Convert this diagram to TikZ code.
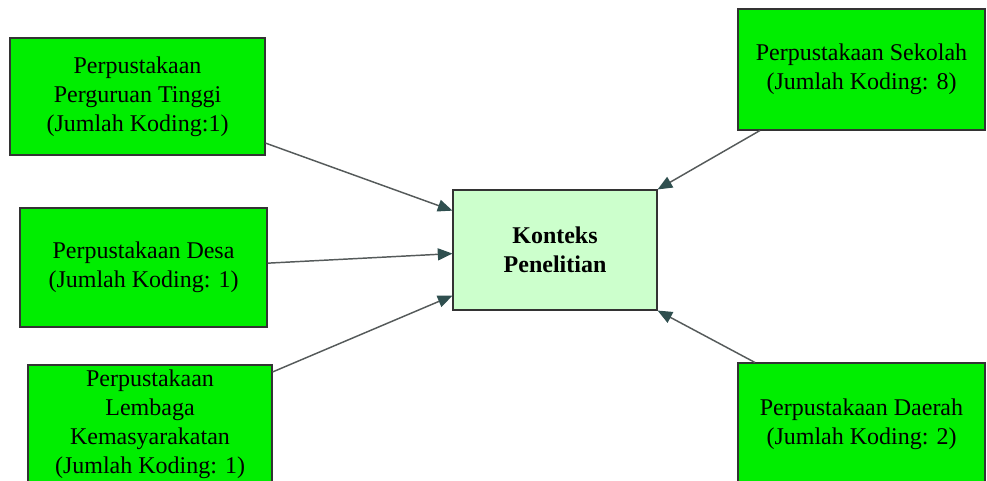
\documentclass[tikz,border=0pt]{standalone}
\usepackage{fontspec}
\setmainfont{Liberation Serif}
\usetikzlibrary{arrows.meta}
\definecolor{boxgreen}{RGB}{0,238,0}
\definecolor{palegreen}{RGB}{204,255,204}
\definecolor{arrowgray}{RGB}{85,90,90}
\definecolor{tipslate}{RGB}{47,79,79}
\begin{document}
\begin{tikzpicture}[x=0.75pt, y=-0.75pt,
  source/.style={draw=black!80, fill=boxgreen, line width=0.8pt, align=center,
    inner sep=0pt, font=\fontsize{18}{21.75}\selectfont},
  target/.style={draw=black!80, fill=palegreen, line width=0.8pt, align=center,
    inner sep=0pt, font=\fontsize{18}{21.75}\selectfont\bfseries},
  link/.style={draw=arrowgray, line width=1.1pt,
    -{Triangle[length=11pt, width=9pt, color=tipslate]}}]

\useasboundingbox (0,0) rectangle (987,481);
\clip (0,0) rectangle (987,481);

\node[target, minimum width=153pt, minimum height=90pt] (konteks) at (555,250) {Konteks\\Penelitian};

\node[source, minimum width=191.25pt, minimum height=87.75pt] (tinggi) at (137.5,96.5)
  {Perpustakaan\\Perguruan Tinggi\\(Jumlah Koding:1)};
\node[source, minimum width=185.25pt, minimum height=89.25pt] (desa) at (143.5,267.5)
  {Perpustakaan Desa\\(Jumlah Koding: 1)};
\node[source, minimum width=183pt, minimum height=88.5pt] (lembaga) at (150,424)
  {Perpustakaan\\Lembaga\\Kemasyarakatan\\(Jumlah Koding: 1)};

\node[source, minimum width=185.25pt, minimum height=90.75pt] (sekolah) at (861.5,69.5)
  {Perpustakaan Sekolah\\(Jumlah Koding: 8)};
\node[source, minimum width=185.25pt, minimum height=91.5pt] (daerah) at (861.5,424)
  {Perpustakaan Daerah\\(Jumlah Koding: 2)};

% arrows into the centre box
\draw[link] (tinggi.-20.8) -- (konteks.159.8);
\draw[link] (desa.2) -- (konteks.182.8);
\draw[link] (lembaga.23.1) -- (konteks.204.1);

\draw[link] (sekolah.211.3) -- (konteks.north east);
\draw[link] (daerah.150.2) -- (konteks.south east);

\end{tikzpicture}
\end{document}
